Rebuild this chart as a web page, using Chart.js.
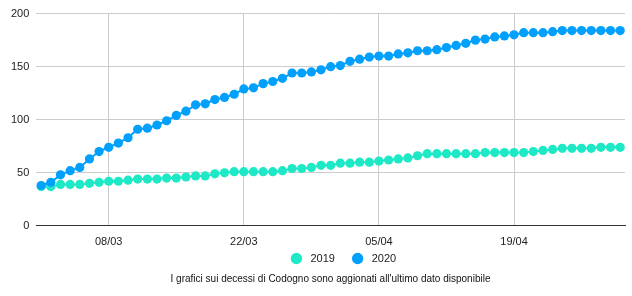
<!DOCTYPE html>
<html lang="it">
  <head>
    <meta charset="UTF-8" />
    <title>Decessi Codogno</title>
    <style>
      html, body {
        margin: 0;
        padding: 0;
        background: #fff;
      }
      #wrap {
        width: 632px;
        height: 296px;
      }
    </style>
  </head>
  <body>
    <div id="wrap"><canvas id="lineChart"></canvas></div>

    <script src="https://cdn.jsdelivr.net/npm/chart.js@4/dist/chart.umd.min.js"></script>
    <script>
      // giorni dal 01/03 al 30/04
      const days = [
        "01/03", "02/03", "03/03", "04/03", "05/03", "06/03", "07/03", "08/03", "09/03", "10/03",
        "11/03", "12/03", "13/03", "14/03", "15/03", "16/03", "17/03", "18/03", "19/03", "20/03",
        "21/03", "22/03", "23/03", "24/03", "25/03", "26/03", "27/03", "28/03", "29/03", "30/03",
        "31/03", "01/04", "02/04", "03/04", "04/04", "05/04", "06/04", "07/04", "08/04", "09/04",
        "10/04", "11/04", "12/04", "13/04", "14/04", "15/04", "16/04", "17/04", "18/04", "19/04",
        "20/04", "21/04", "22/04", "23/04", "24/04", "25/04", "26/04", "27/04", "28/04", "29/04",
        "30/04"
      ];
      const shownTicks = ["08/03", "22/03", "05/04", "19/04"];

      const deaths2019 = [
        37, 37, 39, 39, 39, 40, 41, 42, 42, 43,
        44, 44, 44, 45, 45, 46, 47, 47, 49, 50,
        51, 51, 51, 51, 51, 52, 54, 54, 55, 57,
        57, 59, 59, 60, 60, 61, 62, 63, 64, 66,
        68, 68, 68, 68, 68, 68, 69, 69, 69, 69,
        69, 70, 71, 72, 73, 73, 73, 73, 74, 74,
        74
      ];
      const deaths2020 = [
        38, 41, 48, 52, 55, 63, 70, 74, 78, 83,
        91, 92, 95, 99, 104, 108, 114, 115, 119, 121,
        124, 129, 130, 134, 136, 139, 144, 144, 145, 147,
        150, 151, 155, 157, 159, 160, 160, 162, 163, 165,
        165, 166, 168, 170, 172, 175, 176, 178, 179, 180,
        182, 182, 182, 183, 184, 184, 184, 184, 184, 184,
        184
      ];

      const font = "'Liberation Sans', Arial, sans-serif";

      // sposta legenda e nota come nell'originale
      function moveBox(box, dx, dy) {
        box.left += dx;
        box.right += dx;
        box.top += dy;
        box.bottom += dy;
      }
      const shiftBoxes = {
        id: "shiftBoxes",
        afterLayout(chart) {
          moveBox(chart.legend, 29, -11);
          moveBox(chart.titleBlock, 16, -11);
        },
      };

      new Chart("lineChart", {
        type: "line",
        data: {
          labels: days,
          datasets: [
            {
              label: "2019",
              data: deaths2019,
              borderColor: "#1de9c6",
              backgroundColor: "#1de9c6",
              borderWidth: 2,
              pointRadius: 4.6,
              pointBorderWidth: 0,
              order: 1,
            },
            {
              label: "2020",
              data: deaths2020,
              borderColor: "#00a0fc",
              backgroundColor: "#00a0fc",
              borderWidth: 2,
              pointRadius: 4.6,
              pointBorderWidth: 0,
              order: 0,
            },
          ],
        },
        plugins: [shiftBoxes],
        options: {
          responsive: true,
          maintainAspectRatio: false,
          animation: false,
          layout: { padding: { top: 8, right: 7, left: 4, bottom: 1 } },
          scales: {
            x: {
              offset: true,
              border: { color: "#333", width: 1 },
              grid: {
                offset: false,
                drawTicks: false,
                color: (ctx) =>
                  ctx.tick && shownTicks.includes(days[ctx.tick.value]) ? "#ccc" : "rgba(0,0,0,0)",
              },
              ticks: {
                autoSkip: false,
                maxRotation: 0,
                padding: 10,
                color: "#222",
                font: { family: font, size: 11 },
                callback: function (val) {
                  const d = days[val];
                  return shownTicks.includes(d) ? d : "";
                },
              },
            },
            y: {
              min: 0,
              max: 200,
              border: { display: false },
              grid: { color: "#ccc", drawTicks: false },
              ticks: {
                stepSize: 50,
                padding: 7,
                color: "#222",
                font: { family: font, size: 11 },
              },
            },
          },
          plugins: {
            legend: {
              position: "bottom",
              labels: {
                usePointStyle: true,
                pointStyle: "circle",
                boxWidth: 11,
                boxHeight: 8,
                padding: 5,
                color: "#222",
                font: { family: font, size: 11 },
                sort: (a, b) => a.datasetIndex - b.datasetIndex,
                generateLabels: (chart) =>
                  Chart.defaults.plugins.legend.labels
                    .generateLabels(chart)
                    .map((item) => ({
                      ...item,
                      text: item.datasetIndex === 0 ? " " + item.text + "    " : " " + item.text,
                    })),
              },
            },
            title: {
              display: true,
              position: "bottom",
              text: "I grafici sui decessi di Codogno sono aggionati all'ultimo dato disponibile",
              color: "#111",
              font: { family: font, size: 10, weight: "normal", lineHeight: 1 },
              padding: { top: 0, bottom: 0 },
            },
            tooltip: { enabled: false },
          },
        },
      });
    </script>
  </body>
</html>
